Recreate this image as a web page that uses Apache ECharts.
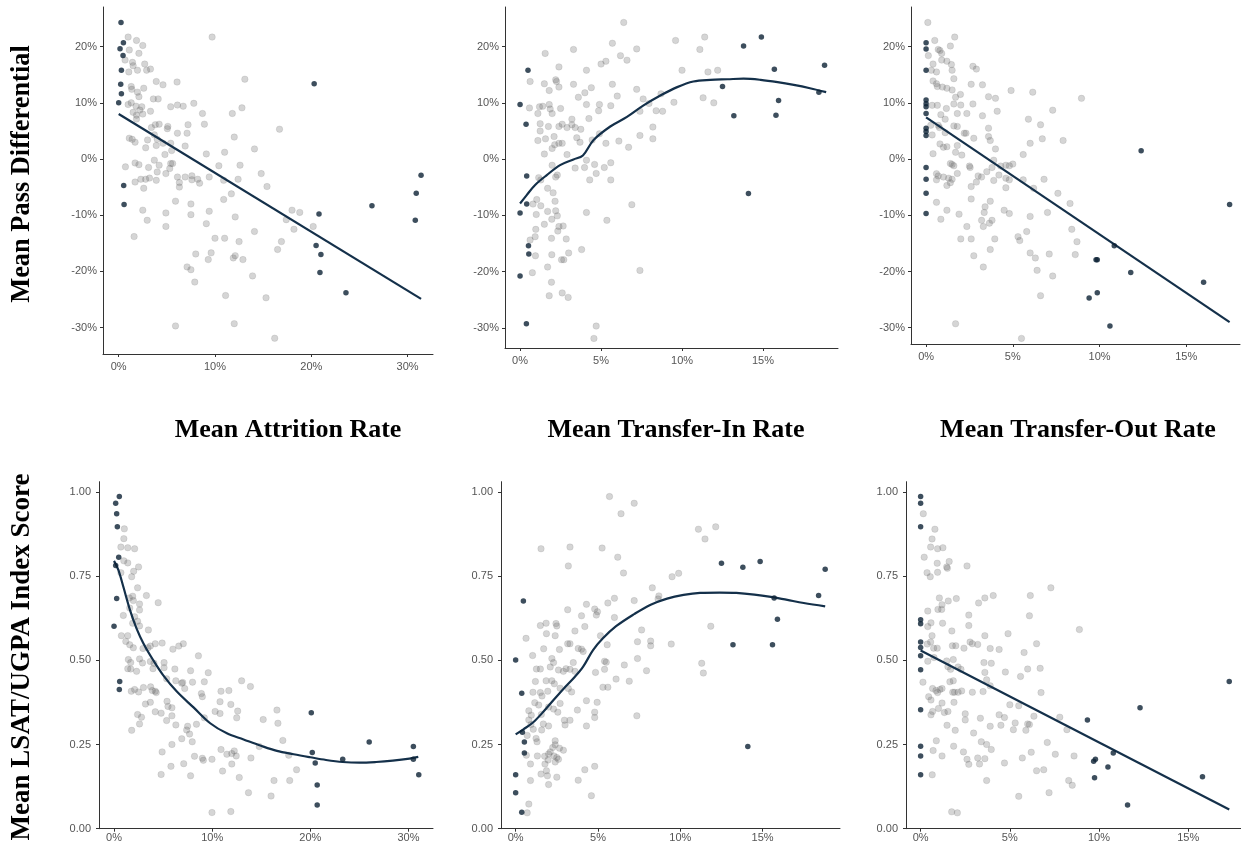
<!DOCTYPE html>
<html><head><meta charset="utf-8">
<script src="https://cdn.jsdelivr.net/npm/echarts@6/dist/echarts.min.js"></script>
<style>html,body{margin:0;padding:0;background:#fff}#c{width:1241px;height:849px}</style>
</head><body><div id="c"></div>
<script>
// ---------- tick labels & titles ----------
const xTicksAttrition = [0, 10, 20, 30];
const xTicksTransfer = [0, 5, 10, 15];
const yTicksPass = [-30, -20, -10, 0, 10, 20];
const yTicksIndex = [0, 0.25, 0.5, 0.75, 1];
const xTitles = ['Mean Attrition Rate', 'Mean Transfer-In Rate', 'Mean Transfer-Out Rate'];
const yTitles = ['Mean Pass Differential', 'Mean LSAT/UGPA Index Score'];

// ---------- Panel 1: attrition vs pass differential ----------
const attrPassGrey = [[0.98,21.7],[1.85,21.1],[2.5,20.2],[1.1,19.4],[2.1,18.8],[0.66,17.6],[1.43,17.2],[1.5,16.6],[2.7,16.9],[1.95,15.8],[1.05,15.5],[2.9,15.8],[3.3,16.0],[1.3,12.9],[1.36,12.4],[1.95,11.9],[2.6,12.6],[2.1,11.1],[3.9,13.8],[4.6,13.2],[6.06,13.7],[3.6,10.7],[4.1,10.7],[0.98,9.7],[1.3,10.0],[1.8,9.4],[2.2,8.7],[2.4,9.3],[1.5,8.3],[1.85,7.8],[2.5,8.0],[3.3,8.5],[1.85,7.1],[5.4,9.3],[6.1,9.6],[6.7,9.4],[7.8,9.9],[8.7,8.1],[8.9,6.2],[11.8,8.1],[12.8,9.1],[13.1,14.2],[16.7,5.3],[9.7,21.7],[3.4,5.6],[3.8,6.1],[4.2,6.2],[5.1,5.8],[5.05,5.4],[6.1,4.6],[7.1,4.6],[7.2,6.1],[1.1,3.7],[1.4,3.5],[1.7,3.0],[3.0,3.4],[3.7,4.3],[4.0,3.5],[4.6,2.8],[5.4,2.8],[2.8,2.0],[3.9,2.4],[6.9,2.3],[5.5,1.5],[4.8,0.8],[9.1,0.9],[11.0,1.2],[14.1,1.8],[12.0,3.9],[3.7,-0.2],[1.7,-0.7],[2.1,-1.0],[0.7,-1.4],[3.1,-1.5],[4.2,-1.1],[4.0,-2.3],[4.9,-2.6],[5.4,-0.8],[5.6,-0.8],[5.3,-1.7],[10.4,-1.2],[12.6,-1.1],[1.7,-4.1],[2.3,-3.6],[2.8,-3.6],[3.2,-3.4],[3.9,-3.8],[2.6,-5.2],[6.1,-3.2],[6.3,-4.2],[6.3,-5.0],[6.9,-3.2],[7.6,-3.0],[7.6,-3.7],[8.2,-3.6],[8.4,-4.3],[9.4,-3.2],[10.9,-3.8],[12.4,-3.6],[11.7,-6.2],[10.9,-7.2],[14.8,-2.6],[15.4,-4.9],[5.9,-7.5],[7.5,-8.0],[2.5,-9.1],[2.96,-10.9],[4.9,-9.6],[4.9,-12.0],[7.5,-9.9],[9.4,-9.3],[9.1,-11.5],[12.1,-10.3],[1.6,-13.8],[10.0,-14.1],[11.0,-14.1],[14.1,-12.9],[12.5,-14.7],[18.0,-9.1],[18.8,-9.5],[17.4,-10.8],[18.2,-12.5],[16.9,-14.7],[16.5,-16.1],[20.2,-12.0],[8.0,-16.9],[9.3,-17.9],[9.6,-16.7],[11.9,-17.6],[12.1,-17.2],[12.9,-17.9],[7.1,-19.2],[7.5,-19.7],[7.9,-21.9],[13.9,-20.8],[11.1,-24.3],[15.3,-24.7],[5.9,-29.7],[12.0,-29.3],[16.2,-31.9]];
const attrPassDark = [[0.24,24.3],[0.49,20.7],[0.14,19.6],[0.45,18.4],[0.28,15.8],[0.21,13.3],[0.28,11.6],[0,10.0],[0.52,-4.7],[0.56,-8.1],[20.3,13.4],[20.8,-9.8],[20.5,-15.4],[21.0,-17.0],[20.9,-20.2],[23.6,-23.8],[26.3,-8.3],[31.4,-2.9],[30.9,-6.1],[30.8,-10.9]];
const attrPassFit = [[0,8.0],[31.4,-24.9]];

// ---------- Panel 2: transfer-in vs pass differential ----------
const tinPassGrey = [[6.4,24.3],[5.7,20.6],[6.2,18.4],[6.6,17.6],[7.2,19.6],[5.3,17.4],[5.0,16.9],[3.3,19.5],[1.55,18.8],[2.4,16.4],[0.62,13.8],[1.5,13.4],[1.8,12.2],[2.2,14.1],[2.25,13.8],[2.4,12.8],[3.3,13.3],[4.1,15.8],[4.4,12.7],[4.0,11.8],[3.6,11.0],[5.7,13.3],[6.0,11.2],[7.2,12.4],[7.6,10.7],[8.7,11.6],[7.96,9.9],[9.6,21.1],[10.0,15.8],[11.1,19.5],[11.4,21.7],[11.6,15.5],[12.2,15.8],[11.3,10.9],[11.96,10.0],[9.5,10.1],[0.58,9.1],[1.1,8.1],[1.2,9.3],[1.4,9.4],[1.8,9.7],[1.86,8.9],[1.98,8.1],[2.5,9.0],[1.24,6.3],[1.24,5.0],[1.75,5.8],[2.4,5.8],[2.6,6.2],[2.9,5.6],[3.2,7.1],[3.2,6.1],[3.4,5.6],[3.75,5.3],[4.1,9.7],[4.25,7.2],[4.85,8.6],[4.9,9.7],[5.6,9.5],[7.4,8.5],[8.4,8.6],[8.8,8.5],[8.2,5.7],[8.2,3.6],[7.4,4.2],[6.7,2.1],[6.1,3.2],[5.3,2.8],[4.9,4.5],[4.45,3.4],[3.5,3.8],[3.7,3.0],[1.1,3.3],[1.57,3.6],[2.1,4.0],[2.14,2.55],[2.4,2.8],[1.5,0.9],[1.98,1.9],[2.6,2.8],[2.9,0.8],[4.1,-0.2],[3.4,-1.6],[3.98,-1.5],[4.6,-0.95],[5.2,-1.5],[5.6,-0.65],[4.7,-2.55],[4.3,-3.7],[5.6,-3.7],[1.98,-1.1],[2.3,-2.85],[2.2,-3.2],[1.15,-3.3],[1.28,-3.7],[1.7,-5.2],[2.04,-6.0],[1.03,-7.2],[0.8,-8.0],[1.28,-8.3],[2.16,-7.5],[1.0,-9.85],[1.7,-9.3],[2.3,-10.1],[1.96,-10.7],[2.2,-9.2],[1.5,-11.6],[2.4,-12.0],[2.66,-11.9],[2.33,-12.8],[0.97,-12.5],[0.93,-13.8],[0.62,-14.4],[1.94,-14.1],[2.85,-14.2],[0.95,-17.2],[1.96,-17.0],[2.56,-17.9],[2.7,-17.9],[3.0,-16.7],[3.8,-16.1],[0.76,-20.2],[1.7,-19.2],[1.94,-21.9],[1.8,-24.3],[2.6,-23.8],[2.97,-24.6],[4.1,-9.5],[5.36,-10.9],[6.9,-8.1],[7.4,-19.8],[4.7,-29.7],[4.56,-31.9]];
const tinPassDark = [[0,9.7],[0,-9.6],[0,-20.8],[0.39,-29.3],[0.49,15.8],[0.37,6.2],[0.41,-3.0],[0.41,-8.0],[0.52,-15.4],[0.54,-16.9],[12.5,12.9],[13.2,7.7],[13.8,20.1],[14.1,-6.1],[14.9,21.7],[15.7,16.0],[15.96,10.4],[15.8,7.8],[18.45,11.9],[18.8,16.7]];
const tinPassFit = [[0,-7.9],[0.41,-6.4],[0.93,-4.6],[1.65,-2.85],[2.47,-1.07],[3.3,-0.06],[3.88,0.65],[4.54,3.4],[5.57,5.8],[6.6,7.5],[7.6,9.5],[8.66,11.3],[9.7,12.8],[10.7,13.8],[11.75,14.1],[12.8,14.2],[13.8,14.3],[14.85,14.1],[15.9,13.7],[16.9,13.2],[17.9,12.6],[18.9,11.9]];

// ---------- Panel 3: transfer-out vs pass differential ----------
const toutPassGrey = [[0.1,24.3],[0.5,21.1],[1.65,21.7],[1.4,20.1],[0.7,19.5],[0.8,19.3],[0.9,18.8],[0.13,18.4],[0.4,16.9],[0.9,17.6],[1.2,17.4],[1.46,16.8],[0.3,15.8],[0.6,15.5],[1.5,15.8],[1.6,14.3],[2.7,16.5],[2.9,16.0],[0.4,13.9],[0.6,13.4],[0.65,12.9],[0.94,12.8],[1.2,12.6],[1.5,12.3],[2.6,13.3],[3.25,13.2],[4.9,12.2],[6.15,11.9],[8.96,10.8],[1.7,11.0],[1.98,11.5],[3.6,11.1],[4.0,10.8],[0.35,9.55],[0.65,9.55],[1.17,9.0],[1.6,9.8],[2.0,9.6],[1.8,8.1],[2.7,9.8],[2.35,8.1],[3.25,7.7],[4.1,8.5],[7.3,8.7],[5.9,7.1],[0.85,7.9],[1.1,7.1],[0.27,6.0],[0.7,6.0],[0.77,5.6],[1.1,4.7],[1.6,5.9],[1.8,5.8],[2.2,4.6],[2.3,4.6],[3.6,5.5],[3.6,4.0],[2.75,3.7],[3.7,3.3],[6.6,6.1],[6.7,3.6],[7.9,3.3],[6.0,2.8],[4.0,1.8],[0.35,4.3],[0.8,2.7],[1.0,2.1],[1.2,2.2],[1.8,2.4],[0.4,0.95],[1.7,1.2],[2.06,0.7],[3.9,-0.2],[1.4,-0.8],[1.5,-0.95],[1.6,-1.2],[2.5,-1.25],[2.54,-1.5],[3.8,-1.5],[4.3,-1.25],[4.6,-1.1],[4.8,-1.2],[5.0,-0.9],[5.6,0.8],[4.2,-2.85],[3.0,-3.0],[3.2,-3.2],[3.5,-2.25],[4.6,-3.4],[4.8,-3.7],[3.9,-3.8],[2.9,-4.1],[0.6,-2.6],[0.7,-3.0],[0.6,-3.7],[1.0,-3.2],[1.3,-3.4],[1.5,-3.6],[1.2,-4.7],[1.4,-4.2],[1.8,-2.55],[2.6,-4.9],[2.6,-7.1],[5.6,-3.7],[6.2,-5.2],[6.8,-3.6],[7.6,-6.1],[8.3,-7.9],[4.6,-5.1],[0.6,-7.7],[1.2,-9.1],[0.85,-10.7],[1.9,-9.8],[3.35,-9.5],[3.4,-8.5],[3.7,-7.5],[4.5,-9.1],[4.8,-9.7],[6.0,-10.2],[7.0,-9.5],[3.2,-10.9],[3.3,-12.0],[3.65,-11.4],[3.8,-10.9],[2.35,-12.0],[2.0,-14.2],[2.6,-14.2],[3.96,-14.2],[5.3,-13.8],[5.4,-14.5],[5.8,-12.9],[8.4,-12.5],[8.7,-14.7],[2.75,-17.2],[3.7,-16.1],[6.0,-16.7],[6.3,-17.6],[7.1,-16.9],[8.6,-17.0],[3.3,-19.2],[6.4,-19.8],[7.3,-20.8],[6.6,-24.3],[1.7,-29.3],[5.5,-31.9]];
const toutPassDark = [[0,20.7],[0,19.6],[0,15.8],[0,10.5],[0,9.85],[0,9.3],[0,8.1],[0,5.5],[0,4.9],[0,4.2],[0,-1.5],[0,-3.6],[0,-6.1],[0,-9.7],[12.4,1.5],[17.5,-8.1],[10.85,-15.4],[9.8,-17.9],[9.87,-17.9],[11.8,-20.2],[9.4,-24.7],[9.87,-23.8],[10.6,-29.7],[16.0,-21.9]];
const toutPassFit = [[0,7.4],[17.5,-29.0]];

// ---------- Panel 4: attrition vs index score ----------
const attrIdxGrey = [[1.05,0.890],[1.0,0.861],[0.7,0.836],[1.4,0.834],[2.1,0.831],[1.0,0.795],[1.4,0.789],[2.5,0.777],[2.0,0.764],[1.8,0.748],[0.7,0.760],[2.4,0.715],[3.3,0.692],[4.5,0.671],[1.56,0.685],[1.9,0.690],[1.97,0.677],[2.6,0.667],[2.6,0.649],[1.6,0.655],[0.95,0.633],[2.1,0.629],[2.4,0.616],[1.9,0.610],[2.6,0.602],[3.5,0.590],[0.75,0.573],[1.4,0.573],[1.2,0.556],[1.6,0.546],[1.97,0.537],[2.95,0.535],[3.46,0.537],[3.7,0.542],[4.2,0.549],[4.9,0.551],[6.0,0.533],[6.6,0.542],[7.06,0.549],[1.46,0.502],[1.7,0.493],[1.7,0.474],[2.3,0.467],[2.6,0.504],[2.9,0.492],[3.7,0.496],[4.07,0.491],[5.1,0.493],[5.1,0.478],[3.97,0.475],[1.4,0.475],[6.2,0.474],[7.8,0.469],[9.6,0.463],[8.6,0.513],[1.76,0.408],[2.1,0.413],[2.5,0.406],[3.0,0.419],[3.73,0.421],[3.9,0.410],[4.3,0.404],[4.2,0.408],[5.36,0.445],[6.3,0.439],[6.9,0.432],[7.0,0.434],[7.2,0.416],[9.2,0.436],[8.0,0.435],[3.2,0.370],[3.7,0.375],[4.2,0.347],[2.4,0.339],[2.8,0.331],[4.8,0.343],[5.4,0.378],[5.36,0.321],[5.9,0.335],[5.5,0.363],[5.9,0.359],[6.3,0.308],[7.4,0.293],[7.5,0.304],[8.4,0.310],[8.9,0.401],[9.0,0.392],[9.2,0.329],[10.3,0.348],[10.8,0.342],[10.8,0.377],[10.9,0.408],[11.7,0.410],[11.9,0.369],[12.6,0.349],[13.0,0.439],[13.9,0.422],[12.5,0.329],[1.8,0.292],[2.6,0.311],[5.9,0.250],[6.9,0.267],[7.7,0.281],[7.97,0.258],[8.2,0.215],[4.9,0.228],[5.8,0.185],[7.1,0.193],[7.8,0.157],[4.8,0.161],[9.0,0.209],[9.1,0.203],[9.98,0.206],[10.9,0.235],[11.5,0.221],[12.0,0.223],[12.25,0.231],[12.45,0.216],[12.0,0.192],[11.06,0.171],[12.76,0.152],[13.95,0.210],[14.8,0.244],[15.2,0.324],[16.6,0.352],[16.7,0.313],[17.2,0.262],[17.8,0.218],[18.6,0.175],[17.9,0.143],[16.3,0.143],[16.0,0.097],[13.7,0.107],[9.98,0.048],[11.9,0.051]];
const attrIdxDark = [[0.54,0.986],[0.17,0.966],[0.27,0.935],[0.34,0.896],[0.48,0.806],[0.17,0.781],[0.27,0.683],[0,0.601],[0.58,0.437],[0.54,0.413],[20.1,0.344],[20.2,0.226],[20.5,0.195],[20.7,0.130],[20.7,0.070],[23.3,0.206],[26.0,0.257],[30.5,0.244],[30.5,0.206],[31.05,0.160]];
const attrIdxFit = [[0,0.795],[0.44,0.768],[0.95,0.718],[1.63,0.649],[2.3,0.594],[3.0,0.550],[4.0,0.500],[5.0,0.456],[6.4,0.407],[8.1,0.360],[9.8,0.313],[11.5,0.283],[13.2,0.265],[14.9,0.247],[16.6,0.231],[18.3,0.221],[20.0,0.212],[21.6,0.204],[23.3,0.198],[25.0,0.196],[26.7,0.198],[28.4,0.202],[30.1,0.208],[31.0,0.213]];

// ---------- Panel 5: transfer-in vs index score ----------
const tinIdxGrey = [[5.7,0.986],[7.2,0.966],[6.4,0.935],[11.1,0.889],[12.15,0.896],[11.5,0.860],[1.54,0.831],[3.3,0.836],[5.25,0.833],[6.2,0.806],[3.2,0.780],[6.55,0.759],[9.9,0.758],[9.5,0.748],[8.3,0.715],[8.7,0.691],[8.65,0.682],[7.2,0.677],[6.0,0.684],[5.6,0.670],[4.3,0.666],[4.8,0.652],[4.97,0.644],[4.9,0.634],[4.0,0.632],[3.16,0.650],[4.2,0.600],[3.6,0.587],[6.0,0.627],[7.65,0.590],[5.15,0.573],[5.56,0.546],[7.4,0.555],[8.2,0.557],[8.2,0.543],[9.45,0.548],[11.85,0.601],[11.3,0.491],[11.4,0.462],[7.95,0.469],[7.4,0.505],[6.6,0.486],[5.4,0.497],[5.5,0.494],[5.4,0.473],[5.3,0.420],[5.6,0.420],[6.1,0.444],[6.9,0.438],[4.85,0.464],[4.95,0.375],[4.8,0.346],[4.8,0.330],[4.3,0.380],[4.3,0.305],[4.6,0.098],[4.8,0.185],[4.2,0.175],[3.75,0.352],[3.8,0.144],[7.36,0.335],[1.5,0.603],[1.85,0.610],[2.45,0.609],[2.5,0.602],[1.87,0.579],[2.4,0.573],[0.63,0.565],[1.7,0.534],[2.66,0.532],[3.16,0.549],[3.3,0.549],[1.03,0.514],[2.2,0.505],[2.3,0.493],[2.1,0.480],[2.6,0.471],[2.9,0.467],[3.06,0.475],[3.3,0.473],[3.5,0.493],[3.6,0.467],[3.8,0.535],[4.0,0.533],[4.1,0.526],[1.26,0.474],[1.5,0.474],[1.2,0.437],[1.85,0.439],[2.2,0.439],[2.35,0.430],[2.7,0.417],[1.95,0.408],[1.5,0.404],[1.05,0.405],[1.6,0.394],[1.16,0.374],[1.4,0.367],[2.0,0.361],[2.3,0.355],[2.56,0.346],[2.7,0.372],[3.2,0.416],[3.4,0.406],[2.96,0.322],[3.0,0.308],[3.3,0.322],[0.8,0.350],[0.95,0.337],[0.8,0.323],[0.93,0.309],[1.07,0.295],[1.56,0.339],[1.68,0.311],[2.0,0.305],[1.58,0.293],[0.7,0.277],[1.24,0.268],[1.3,0.258],[2.4,0.261],[2.4,0.249],[2.66,0.239],[2.9,0.233],[2.25,0.241],[2.1,0.228],[2.0,0.222],[1.76,0.215],[2.33,0.216],[2.5,0.211],[2.6,0.206],[2.4,0.198],[1.97,0.204],[1.32,0.216],[0.65,0.218],[1.78,0.192],[1.54,0.162],[1.87,0.172],[1.93,0.157],[2.0,0.131],[2.5,0.153],[0.9,0.192],[0.9,0.143],[0.8,0.073],[0.7,0.047]];
const tinIdxDark = [[0,0.501],[0,0.160],[0,0.107],[0.37,0.402],[0.47,0.676],[0.41,0.286],[0.53,0.257],[0.53,0.225],[0.37,0.049],[12.5,0.788],[13.2,0.546],[13.8,0.776],[14.85,0.793],[14.1,0.244],[15.7,0.685],[15.9,0.622],[15.6,0.546],[18.4,0.692],[18.8,0.770]];
const tinIdxFit = [[0,0.280],[0.47,0.295],[1.07,0.316],[1.68,0.347],[2.3,0.382],[2.9,0.415],[3.6,0.451],[4.1,0.481],[4.7,0.530],[5.3,0.565],[6.1,0.601],[7.2,0.637],[8.2,0.665],[9.2,0.683],[10.2,0.694],[11.2,0.700],[12.4,0.701],[13.4,0.700],[14.5,0.695],[15.5,0.688],[16.5,0.679],[17.5,0.670],[18.8,0.660]];

// ---------- Panel 6: transfer-out vs index score ----------
const toutIdxGrey = [[0.15,0.935],[0.8,0.889],[0.64,0.860],[0.56,0.836],[0.95,0.831],[1.25,0.834],[0.2,0.806],[0.93,0.788],[1.6,0.793],[1.46,0.777],[1.5,0.773],[2.6,0.780],[0.36,0.760],[0.54,0.748],[0.95,0.761],[7.3,0.715],[4.07,0.692],[3.6,0.685],[3.25,0.670],[2.0,0.683],[1.55,0.676],[1.05,0.685],[1.2,0.665],[1.18,0.651],[0.97,0.651],[0.4,0.646],[2.7,0.634],[6.15,0.692],[6.1,0.632],[8.9,0.591],[0.58,0.611],[1.23,0.610],[0.4,0.600],[2.7,0.603],[1.75,0.587],[3.6,0.573],[4.9,0.579],[6.5,0.549],[2.77,0.554],[2.9,0.549],[3.2,0.547],[0.37,0.548],[0.64,0.573],[0.56,0.554],[0.73,0.536],[0.93,0.536],[1.78,0.543],[1.97,0.543],[2.43,0.536],[3.9,0.535],[4.4,0.532],[5.8,0.523],[0.4,0.497],[0.75,0.508],[1.46,0.498],[1.53,0.481],[1.68,0.473],[1.83,0.502],[2.1,0.480],[2.26,0.473],[3.55,0.493],[3.96,0.491],[3.6,0.464],[4.75,0.465],[5.6,0.452],[6.0,0.474],[6.7,0.476],[0.13,0.435],[0.45,0.392],[0.58,0.382],[0.67,0.416],[0.86,0.410],[0.95,0.404],[1.08,0.413],[1.2,0.416],[1.64,0.436],[1.83,0.439],[1.8,0.405],[1.9,0.405],[2.1,0.405],[2.3,0.409],[2.9,0.405],[3.5,0.407],[3.7,0.442],[3.9,0.424],[5.0,0.368],[5.5,0.365],[6.75,0.404],[0.58,0.338],[0.67,0.348],[1.0,0.357],[1.2,0.373],[1.33,0.345],[1.53,0.348],[1.87,0.375],[2.5,0.341],[2.5,0.323],[3.35,0.328],[4.4,0.338],[4.7,0.330],[6.35,0.334],[7.8,0.331],[1.48,0.307],[1.94,0.292],[2.97,0.284],[3.9,0.304],[4.5,0.307],[5.2,0.294],[5.3,0.314],[5.9,0.292],[6.0,0.311],[6.1,0.309],[8.2,0.294],[0.88,0.261],[0.7,0.232],[1.2,0.216],[1.85,0.245],[2.4,0.228],[3.4,0.258],[3.7,0.250],[3.96,0.235],[2.6,0.206],[2.7,0.191],[3.2,0.210],[3.3,0.192],[3.6,0.208],[4.7,0.195],[5.7,0.210],[6.2,0.227],[7.1,0.256],[7.55,0.221],[8.6,0.216],[6.5,0.172],[6.9,0.175],[3.7,0.143],[8.3,0.143],[8.5,0.129],[7.2,0.107],[5.5,0.096],[0.65,0.160],[1.74,0.050],[2.06,0.047]];
const toutIdxDark = [[0,0.986],[0,0.966],[0,0.896],[0,0.620],[0,0.608],[0,0.554],[0,0.538],[0,0.513],[0,0.472],[0,0.353],[0,0.245],[0,0.216],[0,0.160],[9.35,0.323],[9.7,0.200],[9.8,0.206],[9.75,0.151],[10.5,0.183],[10.8,0.225],[11.6,0.070],[12.3,0.359],[15.8,0.154],[17.3,0.437]];
const toutIdxFit = [[0,0.529],[17.3,0.057]];

// ---------- layout ----------
const panels = [
  {grid:{left:103, top:7, width:330, height:347}, x:[-1.63,32.64], y:[-34.7,27.05], xt:xTicksAttrition, yt:yTicksPass, pct:true, grey:attrPassGrey, dark:attrPassDark, fit:attrPassFit, smooth:false},
  {grid:{left:505, top:7, width:333, height:341}, x:[-0.93,19.63], y:[-33.6,27.05], xt:xTicksTransfer, yt:yTicksPass, pct:true, grey:tinPassGrey, dark:tinPassDark, fit:tinPassFit, smooth:0.35},
  {grid:{left:911, top:7, width:329, height:337}, x:[-0.87,18.1], y:[-32.9,27.05], xt:xTicksTransfer, yt:yTicksPass, pct:true, grey:toutPassGrey, dark:toutPassDark, fit:toutPassFit, smooth:false},
  {grid:{left:99, top:481.7, width:334, height:347}, x:[-1.53,32.5], y:[0,1.03], xt:xTicksAttrition, yt:yTicksIndex, pct:false, grey:attrIdxGrey, dark:attrIdxDark, fit:attrIdxFit, smooth:0.35},
  {grid:{left:501, top:481.7, width:339, height:347}, x:[-0.89,19.7], y:[0,1.03], xt:xTicksTransfer, yt:yTicksIndex, pct:false, grey:tinIdxGrey, dark:tinIdxDark, fit:tinIdxFit, smooth:0.35},
  {grid:{left:906, top:481.7, width:335, height:347}, x:[-0.82,17.96], y:[0,1.03], xt:xTicksTransfer, yt:yTicksIndex, pct:false, grey:toutIdxGrey, dark:toutIdxDark, fit:toutIdxFit, smooth:false}
];

const labelFont = {color:'#555', fontFamily:'Liberation Sans, Arial, sans-serif', fontSize:11};
const axisLine = {show:true, onZero:false, lineStyle:{color:'#333', width:1}};
const grids=[], xAxes=[], yAxes=[], series=[];
panels.forEach((p,i)=>{
  grids.push(Object.assign({containLabel:false}, p.grid));
  xAxes.push({type:'value', gridIndex:i, min:p.x[0], max:p.x[1],
    axisLine:axisLine, splitLine:{show:false},
    axisTick:{show:true, length:3, customValues:p.xt, lineStyle:{color:'#333'}},
    axisLabel:Object.assign({customValues:p.xt, margin: i<3?7:4, formatter:v=>Math.round(v)+'%'}, labelFont)});
  yAxes.push({type:'value', gridIndex:i, min:p.y[0], max:p.y[1],
    axisLine:axisLine, splitLine:{show:false},
    axisTick:{show:true, length:3, customValues:p.yt, lineStyle:{color:'#333'}},
    axisLabel:Object.assign({customValues:p.yt, margin: p.pct?6:8, formatter: p.pct ? (v=>Math.round(v)+'%') : (v=>v.toFixed(2))}, labelFont)});
  series.push({type:'scatter', xAxisIndex:i, yAxisIndex:i, data:p.grey, symbolSize:6.5, clip:false,
    itemStyle:{color:'rgba(95,95,95,0.33)', borderColor:'rgba(80,80,80,0.25)', borderWidth:0.6}, z:2, silent:true});
  series.push({type:'line', xAxisIndex:i, yAxisIndex:i, data:p.fit, smooth:p.smooth, showSymbol:false, symbol:'none', clip:false,
    lineStyle:{color:'#14304a', width:2.2}, z:3, silent:true});
  series.push({type:'scatter', xAxisIndex:i, yAxisIndex:i, data:p.dark, symbolSize:5.5, clip:false,
    itemStyle:{color:'#0c2235'}, z:4, silent:true});
});

const titleStyle = {fontFamily:'Liberation Serif, Times New Roman, serif', fontWeight:'bold', fontSize:26, fill:'#000'};
const xTitlePos = [[288,430],[676,430],[1078,430]];
const yTitlePos = [[22,174],[22,657]];
const graphics = [];
xTitles.forEach((t,i)=>graphics.push({type:'text', x:xTitlePos[i][0], y:xTitlePos[i][1],
  style:Object.assign({text:t, align:'center', verticalAlign:'middle'}, titleStyle)}));
yTitles.forEach((t,i)=>graphics.push({type:'text', x:yTitlePos[i][0], y:yTitlePos[i][1], rotation:Math.PI/2,
  style:Object.assign({text:t, align:'center', verticalAlign:'middle'}, titleStyle, {fontSize: i===0?26.4:27})}));

const chart = echarts.init(document.getElementById('c'), null, {renderer:'canvas'});
chart.setOption({animation:false, backgroundColor:'#fff', grid:grids, xAxis:xAxes, yAxis:yAxes, series:series, graphic:graphics});
</script>
</body></html>
